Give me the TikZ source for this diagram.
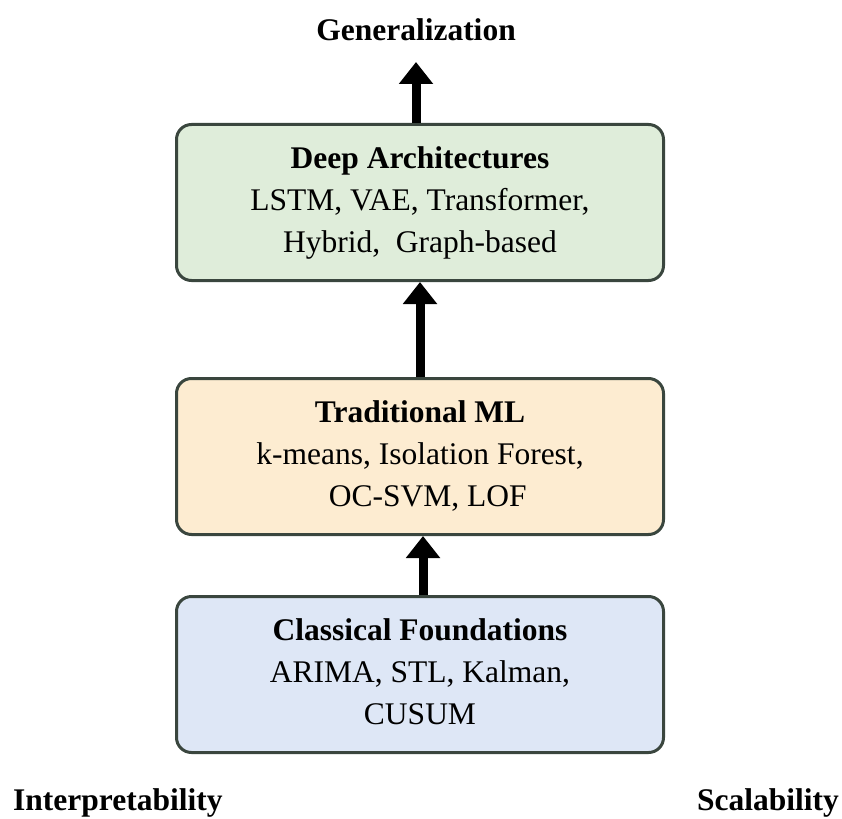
\documentclass[tikz,border=0pt]{standalone}
\usepackage{fontspec}
\setmainfont{Liberation Serif}
\usetikzlibrary{arrows.meta}
\definecolor{boxline}{RGB}{58,70,62}
\definecolor{deepfill}{RGB}{223,237,218}
\definecolor{tradfill}{RGB}{253,236,209}
\definecolor{clsfill}{RGB}{222,231,246}
\tikzset{
  stagebox/.style={draw=boxline, line width=3pt, rounded corners=15pt,
    minimum width=487pt, minimum height=156pt, align=center,
    font=\fontsize{31.5}{42}\selectfont, text=black},
  axislabel/.style={font=\fontsize{31.5}{38}\selectfont\bfseries, inner sep=0pt},
  bigarrow/.style={line width=9pt, -{Triangle[length=22pt,width=33pt]}}
}
\begin{document}
\begin{tikzpicture}[x=1pt,y=-1pt]
\useasboundingbox (0,0) rectangle (842,818);
\node[stagebox, fill=deepfill] (deep) at (420,202.5)
  {\strut\textbf{Deep Architectures}\\\strut LSTM, VAE, Transformer,\\\strut Hybrid,\ \ Graph-based};
\node[stagebox, fill=tradfill] (trad) at (420,456.5)
  {\strut\textbf{Traditional ML}\\\strut k-means, Isolation Forest,\\\strut\ \ OC-SVM, LOF};
\node[stagebox, fill=clsfill] (cls) at (420,674.5)
  {\strut\textbf{Classical Foundations}\\\strut ARIMA, STL, Kalman,\\\strut CUSUM};
\node[axislabel, anchor=base] (gen) at (416,40.7) {Generalization};
\node[axislabel, anchor=base west] (interp) at (13,810.5) {Interpretability};
\node[axislabel, anchor=base east] (scal) at (839,810.5) {Scalability};
\coordinate (gentip) at (416,62);
\draw[bigarrow] ([xshift=-4pt]deep.north) -- (gentip);
\draw[bigarrow] (trad.north) -- (deep.south);
\draw[bigarrow] ([xshift=3pt]cls.north) -- ([xshift=3pt]trad.south);
\end{tikzpicture}
\end{document}
